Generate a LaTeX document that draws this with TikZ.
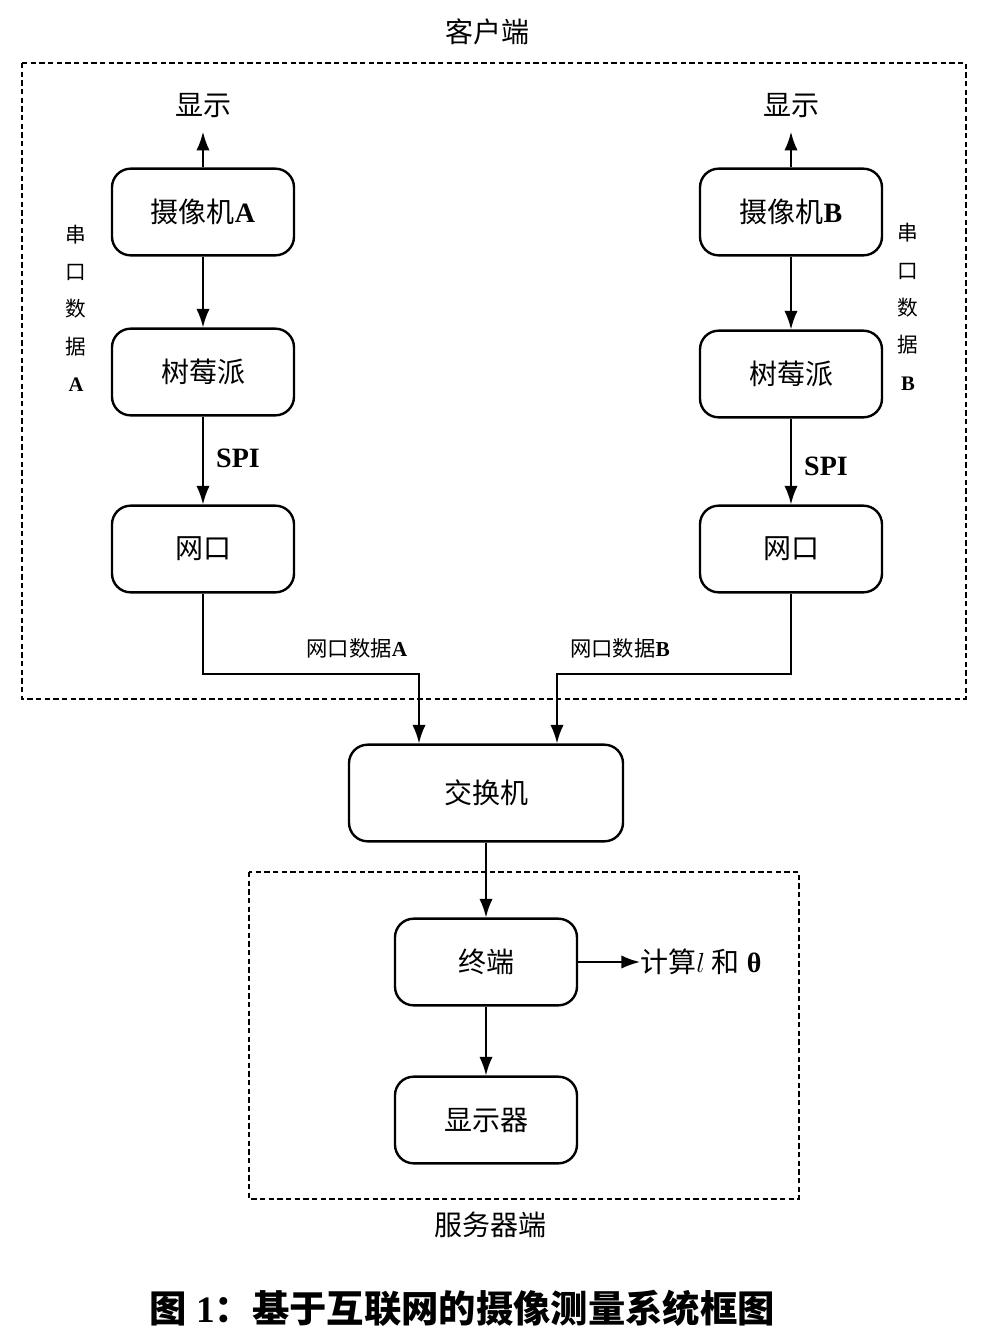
\documentclass[tikz,border=0pt]{standalone}
\usepackage{amsmath}
\usepackage{fontspec}
\setmainfont{Liberation Serif}
\newfontfamily\cjk{Noto Sans CJK SC}
\usetikzlibrary{arrows.meta}
\tikzset{
  blk/.style={draw, line width=1.8pt, rounded corners=14pt, minimum width=136.5pt, minimum height=65pt, inner sep=0pt, font=\fontsize{21}{25}\selectfont},
  arr/.style={line width=1.5pt, -{Latex[length=14pt,width=10pt]}},
  frame/.style={line width=0.8pt, dash pattern=on 4pt off 2.5pt},
  lbl/.style={inner sep=0pt, font=\fontsize{21}{25}\selectfont},
  side/.style={inner sep=0pt, align=center, font=\cjk\fontsize{15.5}{28}\selectfont},
  small/.style={inner sep=0pt, font=\fontsize{16}{19}\selectfont},
}
\begin{document}
\begin{tikzpicture}[x=0.75pt,y=-0.75pt]
\useasboundingbox (0,0) rectangle (985,1335);
% frames
\draw[frame] (22,63) rectangle (966,699);
\draw[frame] (249,872) rectangle (799,1199);
\node[lbl] (client) at (487,32) {\cjk 客户端};
\node[lbl] (server) at (490,1225) {\cjk 服务器端};
% left column
\node[lbl] (dispA) at (203,106) {\cjk 显示};
\node[blk] (camA) at (203,212) {{\cjk 摄像机}\textbf{A}};
\node[blk] (rpiA) at (203,372) {\cjk 树莓派};
\node[blk] (netA) at (203,549) {\cjk 网口};
\node[lbl, font=\bfseries\fontsize{21}{25}\selectfont] (spiA) at (238,458) {SPI};
\node[side] (serA) at (76,308) {串\\口\\数\\据\\\rmfamily\bfseries A};
% right column
\node[lbl] (dispB) at (791,106) {\cjk 显示};
\node[blk] (camB) at (791,212) {{\cjk 摄像机}\textbf{B}};
\node[blk] (rpiB) at (791,374) {\cjk 树莓派};
\node[blk] (netB) at (791,549) {\cjk 网口};
\node[lbl, font=\bfseries\fontsize{21}{25}\selectfont] (spiB) at (826,466) {SPI};
\node[side] (serB) at (908,307) {串\\口\\数\\据\\\rmfamily\bfseries B};
% switch and server
\node[blk, minimum width=205.5pt, minimum height=72.5pt] (sw) at (486,793) {\cjk 交换机};
\node[blk] (term) at (486,962) {\cjk 终端};
\node[blk] (mon) at (486,1120) {\cjk 显示器};
\node[lbl, anchor=west] (calc) at (640,962) {{\cjk 计算}$l$ {\cjk 和} \textbf{θ}};
\node[small] (labA) at (357,648) {{\cjk 网口数据}\textbf{A}};
\node[small] (labB) at (620,648) {{\cjk 网口数据}\textbf{B}};
% connectors
\draw[arr, shorten >=10pt] (camA.north) -- (dispA.south);
\draw[arr] (camA) -- (rpiA);
\draw[arr] (rpiA) -- (netA);
\draw[arr, shorten >=10pt] (camB.north) -- (dispB.south);
\draw[arr] (camB) -- (rpiB);
\draw[arr] (rpiB) -- (netB);
\draw[arr] (netA.south) -- ++(0,80) -| ([xshift=-50.25pt]sw.north);
\draw[arr] (netB.south) -- ++(0,80) -| ([xshift=53.25pt]sw.north);
\draw[arr] (sw) -- (term);
\draw[arr] (term) -- (mon);
\draw[arr] (term.east) -- (calc.west);
% caption
\node[inner sep=0pt, font=\bfseries\fontsize{28}{32}\selectfont] (cap) at (462,1308) {{\cjk 图} 1{\cjk ：基于互联网的摄像测量系统框图}};
\end{tikzpicture}
\end{document}
